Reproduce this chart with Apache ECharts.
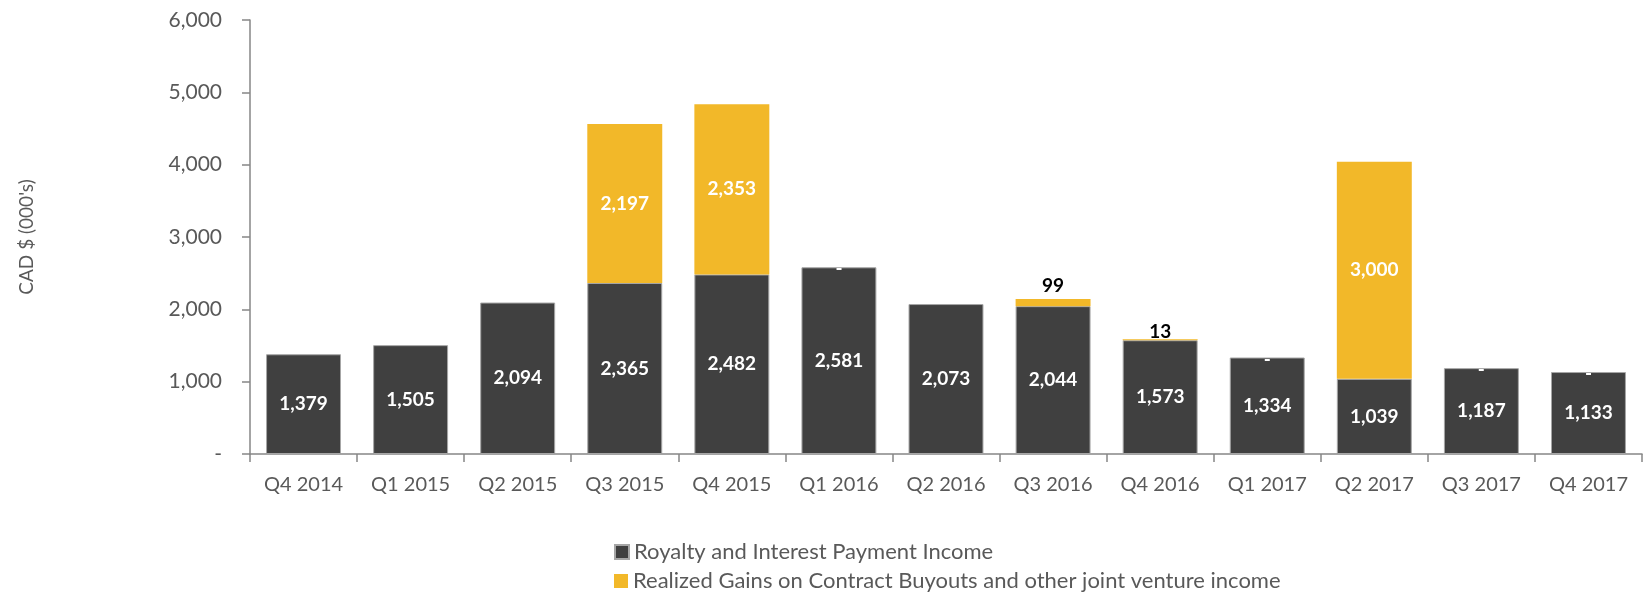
<!DOCTYPE html>
<html>
<head>
<meta charset="utf-8">
<script src="https://cdn.jsdelivr.net/npm/echarts@6/dist/echarts.min.js"></script>
<style>
  html, body { margin: 0; padding: 0; background: #fff; }
  #main { width: 1644px; height: 594px; }
</style>
</head>
<body>
<div id="main"></div>
<script>
// quarters
var categories = ['Q4 2014', 'Q1 2015', 'Q2 2015', 'Q3 2015', 'Q4 2015', 'Q1 2016', 'Q2 2016',
  'Q3 2016', 'Q4 2016', 'Q1 2017', 'Q2 2017', 'Q3 2017', 'Q4 2017'];
// CAD $ (000's)
var royalty = [1379, 1505, 2094, 2365, 2482, 2581, 2073, 2044, 1573, 1334, 1039, 1187, 1133];
var gains = [null, null, null, 2197, 2353, 0, null, 99, 13, 0, 3000, 0, 0];
var yTicks = [0, 1000, 2000, 3000, 4000, 5000, 6000];

var FONT = 'Lato';
var GREY = '#595959';
var S1 = 'Royalty and Interest Payment Income';
var S2 = 'Realized Gains on Contract Buyouts and other joint venture income';

function fmt(v) {
  if (v === 0) return '-';
  return v.toLocaleString('en-US');
}

// small or zero values get their label placed differently
var gainsData = gains.map(function (v) {
  if (v === null) return null;
  if (v === 0) {
    return { value: v, label: { position: 'inside', offset: [0, 2] } };
  }
  if (v < 500) {
    return { value: v, label: { position: 'top', color: '#000', distance: v < 50 ? -2 : 4 } };
  }
  return v;
});

function legendRow(name, top) {
  return {
    left: 614,
    top: top,
    padding: 0,
    itemWidth: 14,
    itemHeight: 14,
    icon: 'rect',
    textStyle: { fontFamily: FONT, fontSize: 22, color: GREY },
    data: [name]
  };
}

var chart = echarts.init(document.getElementById('main'));
chart.setOption({
  animation: false,
  textStyle: { fontFamily: FONT },
  grid: { left: 250, right: 2, top: 20, bottom: 140 },
  legend: [legendRow(S1, 541), legendRow(S2, 570)],
  xAxis: {
    type: 'category',
    data: categories,
    axisLine: { lineStyle: { color: '#868686', width: 1.5 } },
    axisTick: { show: true, length: 8, lineStyle: { color: '#868686', width: 1.5 } },
    axisLabel: { color: GREY, fontSize: 20, margin: 21, fontFamily: FONT }
  },
  yAxis: {
    type: 'value',
    min: yTicks[0],
    max: yTicks[yTicks.length - 1],
    interval: 1000,
    name: "CAD $ (000's)",
    nameLocation: 'middle',
    nameGap: 214,
    nameTextStyle: { color: GREY, fontSize: 19, fontFamily: FONT },
    axisLine: { show: true, lineStyle: { color: '#868686', width: 1.5 } },
    axisTick: { show: true, length: 8, lineStyle: { color: '#868686', width: 1.5 } },
    splitLine: { show: false },
    axisLabel: { color: GREY, fontSize: 21, margin: 28, fontFamily: FONT, formatter: fmt }
  },
  series: [
    {
      name: S1,
      type: 'bar',
      stack: 'total',
      barCategoryGap: '30%',
      data: royalty,
      itemStyle: { color: '#404040', borderColor: '#a6a6a6', borderWidth: 1 },
      label: {
        show: true, position: 'inside', color: '#fff', fontWeight: 'bold',
        fontSize: 19, fontFamily: FONT, formatter: function (p) { return fmt(p.value); }
      }
    },
    {
      name: S2,
      type: 'bar',
      stack: 'total',
      data: gainsData,
      itemStyle: { color: '#f2b829' },
      label: {
        show: true, position: 'inside', color: '#fff', fontWeight: 'bold',
        fontSize: 19, fontFamily: FONT, formatter: function (p) { return fmt(p.value); }
      }
    }
  ]
});
</script>
</body>
</html>
